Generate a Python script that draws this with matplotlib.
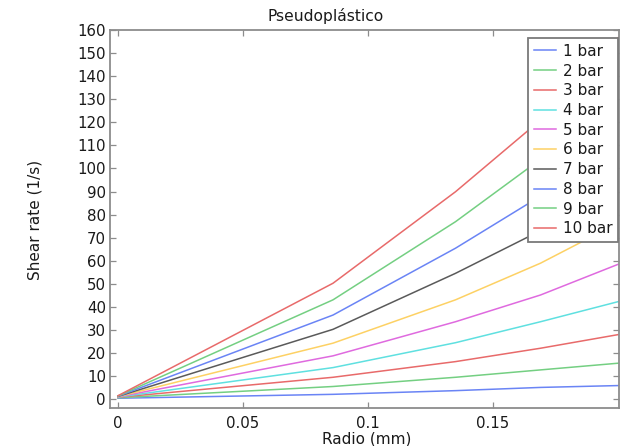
import matplotlib
matplotlib.use("Agg")
import matplotlib.pyplot as plt

# Radial positions of the mesh nodes (mm)
radio = [0.0, 0.086, 0.135, 0.169, 0.2]

labels = ["1 bar", "2 bar", "3 bar", "4 bar", "5 bar",
          "6 bar", "7 bar", "8 bar", "9 bar", "10 bar"]

# Shear rate (1/s) at each node for every pressure
bar1 = [0.3, 2.0, 3.6, 5.0, 5.8]
bar2 = [0.5, 5.4, 9.4, 12.6, 15.5]
bar3 = [0.7, 9.4, 16.2, 22.0, 27.9]
bar4 = [0.8, 13.6, 24.4, 33.5, 42.2]
bar5 = [0.9, 18.7, 33.5, 45.1, 58.4]
bar6 = [1.0, 24.2, 43.0, 58.9, 76.3]
bar7 = [1.1, 30.2, 54.5, 73.0, 94.3]
bar8 = [1.2, 36.4, 65.4, 88.0, 114.0]
bar9 = [1.3, 43.0, 76.9, 104.0, 135.0]
bar10 = [1.4, 50.2, 89.9, 121.0, 156.7]
series = [bar1, bar2, bar3, bar4, bar5, bar6, bar7, bar8, bar9, bar10]

colors = ["#6a84f5", "#74cf82", "#e86a6a", "#5fe0e0", "#df6adf",
          "#fdd164", "#5a5a5a", "#6a84f5", "#74cf82", "#e86a6a"]

xticks = [0, 0.05, 0.1, 0.15]
xticklabels = ["0", "0.05", "0.1", "0.15"]
yticks = list(range(0, 161, 10))

plt.rcParams["font.family"] = ["DejaVu Sans"]
W, H = 621, 446
fig = plt.figure(figsize=(W / 100, H / 100), dpi=100)
ax = fig.add_axes([110 / W, 1 - 407.7 / H, 509 / W, 378.2 / H])

for vals, lab, c in zip(series, labels, colors):
    ax.plot(radio, vals, color=c, lw=1.1, label=lab)

ax.set_xlim(-0.0032, 0.2004)
ax.set_ylim(-3.8, 160.3)
ax.set_xticks(xticks)
ax.set_xticklabels(xticklabels)
ax.set_yticks(yticks)

spine_col = "#8c8c8c"
for s in ax.spines.values():
    s.set_color(spine_col)
    s.set_linewidth(1.3)
ax.tick_params(direction="in", length=4, width=0.9, color=spine_col,
               top=True, right=True, labelsize=10.8, labelcolor="#1a1a1a")
ax.tick_params(axis="x", pad=6)
ax.tick_params(axis="y", pad=3)

leg = ax.legend(loc="upper right", bbox_to_anchor=(0.998, 0.9775),
                borderaxespad=0, fontsize=11, handlelength=1.5,
                handletextpad=0.4, labelspacing=0.31, borderpad=0.38,
                fancybox=False, framealpha=1, shadow=False)
leg.get_frame().set_edgecolor("#7a7a7a")
leg.get_frame().set_linewidth(1.3)
for t in leg.get_texts():
    t.set_color("#1a1a1a")

fig.text(325.5 / W, 1 - 16 / H, "Pseudoplástico", ha="center", va="center",
         fontsize=11.2, color="#1a1a1a")
fig.text(35 / W, 1 - 220 / H, "Shear rate (1/s)", ha="center", va="center",
         rotation=90, fontsize=11, color="#1a1a1a")
fig.text(367 / W, 1 - 432 / H, "Radio (mm)", ha="center", va="top",
         fontsize=11, color="#1a1a1a")

fig.savefig("out.png", dpi=100)
